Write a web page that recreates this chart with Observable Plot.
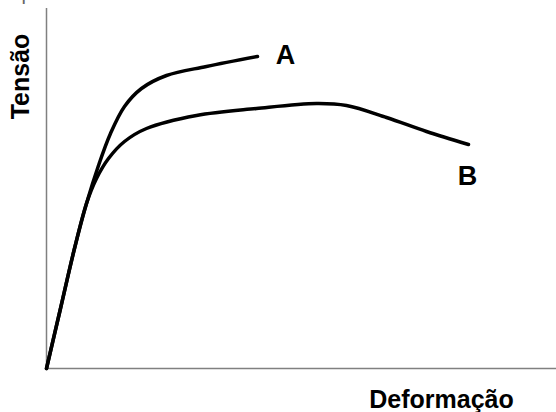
<!DOCTYPE html>
<html>
<head>
<meta charset="utf-8">
<script src="https://cdn.jsdelivr.net/npm/d3@7"></script>
<script src="https://cdn.jsdelivr.net/npm/@observablehq/plot@0.6"></script>
<style>
  html, body { margin: 0; padding: 0; background: #fff; }
</style>
</head>
<body>
<div id="chart"></div>
<script>
// Deformação (x) and Tensão (y), arbitrary units
const curveA_x = [0, 14, 28, 40, 52, 64, 78, 95, 120, 160, 211];
const curveA_y = [0, 60, 120, 165, 203, 235, 262, 280, 293, 302, 312];
const curveB_x = [0, 14, 28, 40, 50, 62, 78, 100, 150, 210, 270, 300, 340, 380, 422];
const curveB_y = [0, 60, 120, 165, 190, 210, 227, 240, 253, 260, 265, 263, 251, 237, 224];
const seriesNames = ["A", "B"];
const xLabel = "Deformação";
const yLabel = "Tensão";
const topText = "apresenta";

const A = curveA_x.map((x, i) => ({x, y: curveA_y[i], s: seriesNames[0]}));
const B = curveB_x.map((x, i) => ({x, y: curveB_y[i], s: seriesNames[1]}));

const font = "'Liberation Sans', Arial, Helvetica, sans-serif";

const chart = Plot.plot({
  width: 556,
  height: 412,
  marginLeft: 46,
  marginTop: 8,
  marginBottom: 44,
  marginRight: 0,
  style: {fontFamily: font, background: "#fff"},
  x: {domain: [0, 510], axis: null},
  y: {domain: [0, 360], axis: null},
  marks: [
    Plot.ruleX([0], {stroke: "#808080", strokeWidth: 1.5}),
    Plot.ruleY([0], {stroke: "#808080", strokeWidth: 1.5}),
    Plot.line(A, {x: "x", y: "y", stroke: "#000", strokeWidth: 3.5, curve: "catmull-rom"}),
    Plot.line(B, {x: "x", y: "y", stroke: "#000", strokeWidth: 3.5, curve: "catmull-rom"}),
    Plot.text(A.slice(-1), {x: "x", y: "y", text: "s", dx: 28, dy: 7, fontSize: 27, fontWeight: "bold", fill: "#000", lineAnchor: "bottom", textAnchor: "middle"}),
    Plot.text(B.slice(-1), {x: "x", y: "y", text: "s", dx: -1, dy: 40, fontSize: 27, fontWeight: "bold", fill: "#000", lineAnchor: "bottom", textAnchor: "middle"}),
    Plot.text([xLabel], {frameAnchor: "bottom-right", dx: -115, dy: 39, fontSize: 25, fontWeight: "bold", fill: "#000", lineAnchor: "bottom", textAnchor: "middle"}),
    Plot.text([yLabel], {frameAnchor: "top-left", dx: -18, dy: 68, rotate: -90, fontSize: 25, fontWeight: "bold", fill: "#000", lineAnchor: "bottom", textAnchor: "middle"}),
    Plot.text([topText], {frameAnchor: "top-left", dx: -36, dy: -9, fontSize: 20, fill: "#666", lineAnchor: "bottom", textAnchor: "start"})
  ]
});
document.getElementById("chart").appendChild(chart);
</script>
</body>
</html>
